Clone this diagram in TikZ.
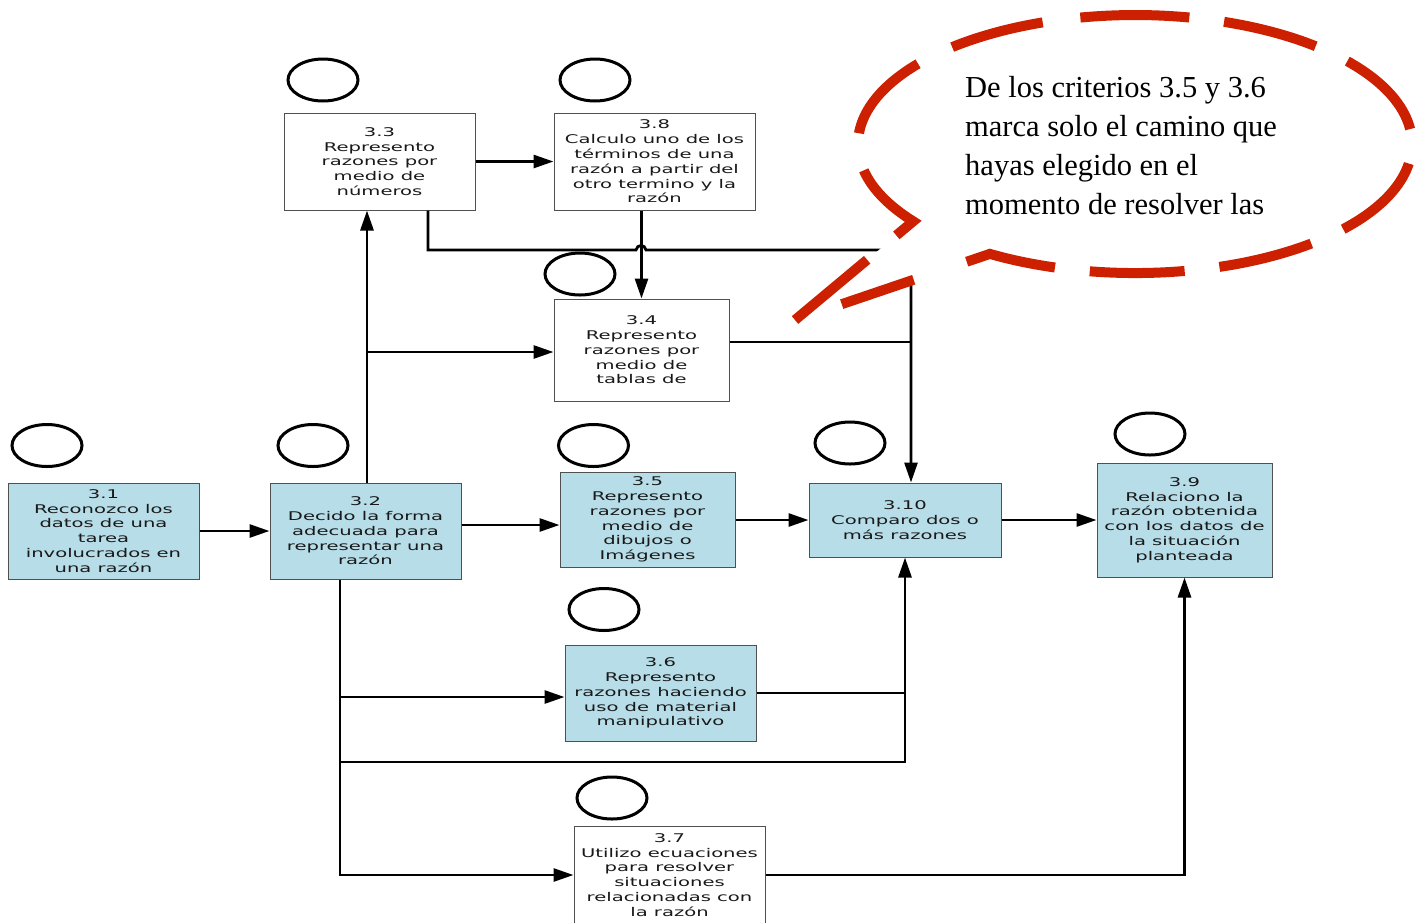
\documentclass[tikz,border=0pt]{standalone}
\usepackage{fontspec}
\newfontfamily\boxfont[FakeStretch=1.63]{DejaVu Sans}
\newfontfamily\notefont{Liberation Serif}
\usetikzlibrary{arrows.meta,calc}
\definecolor{boxblue}{RGB}{183,221,232}
\definecolor{noteRed}{RGB}{205,32,0}
\definecolor{edgegray}{RGB}{80,80,80}
\begin{document}
\begin{tikzpicture}[x=1pt,y=-1pt,
  card/.style={draw=edgegray, line width=1pt, inner sep=0pt, align=center,
    font=\boxfont\fontsize{12}{14.8}\selectfont, text=black!90},
  bluebox/.style={card, fill=boxblue},
  whitebox/.style={card, fill=white},
  ln/.style={line width=2.8pt, black},
  thinln/.style={line width=2pt, black},
  arr/.style={ln, -{Triangle[length=20pt,width=13pt]}},
  ring/.style={line width=3pt, black},
  redline/.style={noteRed, line width=10pt},
  notetext/.style={anchor=base west, inner sep=0pt, font=\notefont\fontsize{30.5}{39}\selectfont, text=black}
  ]
\clip (0,0) rectangle (1424,922);
\fill[white] (0,0) rectangle (1424,922);

% boxes
\node[bluebox, minimum width=191pt, minimum height=96pt] (b31) at (103.5,531) {3.1\\Reconozco los\\datos de una\\tarea\\involucrados en\\una razón};
\node[bluebox, minimum width=191pt, minimum height=96pt] (b32) at (365.5,531) {3.2\\Decido la forma\\adecuada para\\representar una\\razón};
\node[whitebox, minimum width=191pt, minimum height=97pt] (b33) at (379.5,161.5) {3.3\\Represento\\razones por\\medio de\\números};
\node[whitebox, minimum width=201pt, minimum height=97pt] (b38) at (654.5,161.5) {3.8\\Calculo uno de los\\términos de una\\razón a partir del\\otro termino y la\\razón};
\node[whitebox, minimum width=175pt, minimum height=102pt] (b34) at (641.5,350) {3.4\\Represento\\razones por\\medio de\\tablas de};
\node[bluebox, minimum width=175pt, minimum height=95pt] (b35) at (647.5,519.5) {3.5\\Represento\\razones por\\medio de\\dibujos o\\Imágenes};
\node[bluebox, minimum width=192pt, minimum height=74pt] (b310) at (905,520) {3.10\\Comparo dos o\\más razones};
\node[bluebox, minimum width=175pt, minimum height=114pt] (b39) at (1184.5,520) {3.9\\Relaciono la\\razón obtenida\\con los datos de\\la situación\\planteada};
\node[bluebox, minimum width=191pt, minimum height=96pt] (b36) at (660.5,693) {3.6\\Represento\\razones haciendo\\uso de material\\manipulativo};
\node[whitebox, minimum width=191pt, minimum height=98pt] (b37) at (669.5,875) {3.7\\Utilizo ecuaciones\\para resolver\\situaciones\\relacionadas con\\la razón};

% helper coordinates
\coordinate (v1) at (367,352);
\coordinate (h35) at (0,525);
\coordinate (j1) at (428,250);
\coordinate (hop) at (641,250);
\coordinate (j2) at (911,250);
\coordinate (k) at (911,342);
\coordinate (v2) at (340,875);
\coordinate (r36) at (340,697);
\coordinate (c1) at (340,762);
\coordinate (c2) at (905,762);
\coordinate (c3) at (1184.5,875);

% connectors
\draw[arr] (b31.east) -- (b32.west);
\draw[arr] (b32.north -| v1) -- (b33.south -| v1);
\draw[arr] (v1) -- (b34.west |- v1);
\draw[arr] (b32.east |- h35) -- (b35.west |- h35);
\draw[arr] (b35.east |- b310.west) -- (b310.west);
\draw[arr] (b310.east) -- (b39.west);
\draw[arr] (b33.east) -- (b38.west);
\draw[arr] (b34.north |- b38.south) -- (b34.north);
\draw[arr] (b33.south -| j1) -- (j1) -- ($(hop)+(-5,0)$) .. controls +(1,-6) and +(-1,-6) .. ($(hop)+(5,0)$) -- (j2) -- (b310.north -| j2);
\draw[thinln] (b34.east |- k) -- (k);
\draw[arr] (b32.south -| v2) -- (v2) -- (b37.west |- v2);
\draw[arr] (r36) -- (b36.west |- r36);
\draw[arr] (c1) -- (c2) -- (b310.south -| c2);
\draw[thinln] (b36.east) -- (b36.east -| c2);
\draw[arr] (b37.east |- c3) -- (c3) -- (b39.south -| c3);

% empty rating ovals
\draw[ring] (323,80) ellipse [x radius=35pt, y radius=21pt];
\draw[ring] (595,80) ellipse [x radius=35pt, y radius=21pt];
\draw[ring] (580,274) ellipse [x radius=35pt, y radius=21pt];
\draw[ring] (47,445.5) ellipse [x radius=35pt, y radius=21pt];
\draw[ring] (313,445.5) ellipse [x radius=35pt, y radius=21pt];
\draw[ring] (593.5,445.5) ellipse [x radius=35pt, y radius=21pt];
\draw[ring] (850,443) ellipse [x radius=35pt, y radius=21pt];
\draw[ring] (1150,434) ellipse [x radius=35pt, y radius=21pt];
\draw[ring] (604,609.5) ellipse [x radius=35pt, y radius=21pt];
\draw[ring] (612,798) ellipse [x radius=35pt, y radius=21pt];

% speech bubble
\coordinate (tip) at (795,320);
\coordinate (pa) at (913.2,221.3);
\coordinate (pb) at (989.9,253.9);
\coordinate (pc) at (1054.95,267.5);
\fill[white] (pb) arc[start angle=-121.6, end angle=216.8, x radius=277pt, y radius=129pt] -- (tip) -- cycle;
\draw[redline, dash pattern=on 94pt off 38pt]
  (tip) -- (pa) arc[start angle=-143.2, end angle=-270, x radius=277pt, y radius=129pt];
\draw[redline, dash pattern=on 95pt off 35pt, dash phase=95pt]
  (pc) arc[start angle=-466.8, end angle=-270, x radius=277pt, y radius=129pt];
\draw[redline, dash pattern=on 91pt off 56pt on 76pt off 60pt]
  (pc) arc[start angle=-106.8, end angle=-121.6, x radius=277pt, y radius=129pt] -- (tip);
\node[notetext] (n1) at (965,97) {De los criterios 3.5 y 3.6};
\node[notetext] (n2) at (965,136) {marca solo el camino que};
\node[notetext] (n3) at (965,175) {hayas elegido en el};
\node[notetext] (n4) at (965,214) {momento de resolver las};
\end{tikzpicture}
\end{document}
